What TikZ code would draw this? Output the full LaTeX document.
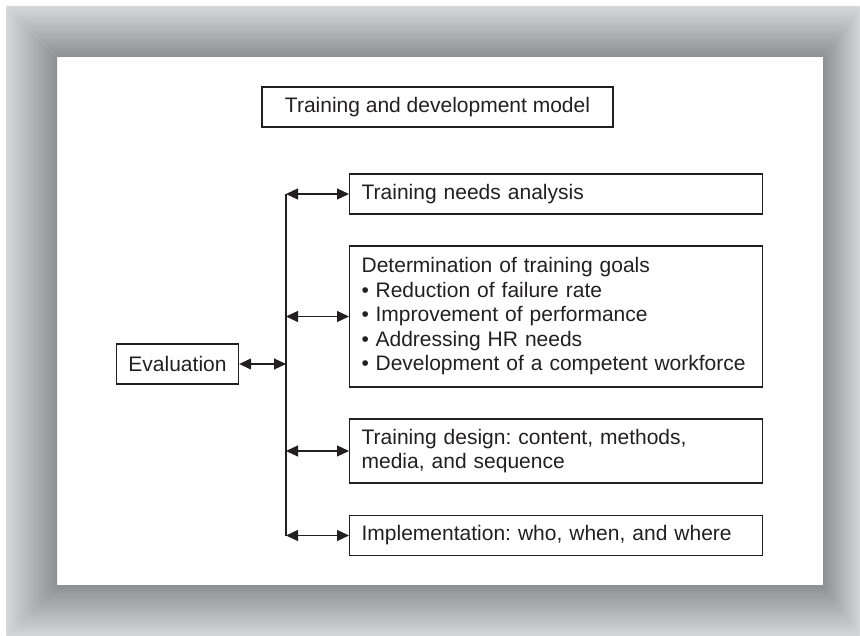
\documentclass[tikz,border=0pt]{standalone}
\usepackage{fontspec}
\setmainfont{Liberation Sans}
\usetikzlibrary{arrows.meta}

\definecolor{frameLight}{RGB}{214,215,217}
\definecolor{frameDark}{RGB}{142,143,147}
\definecolor{ink}{RGB}{35,31,32}

\frenchspacing

\begin{document}
\begin{tikzpicture}[x=1pt, y=-1pt,
  box/.style={draw=ink, line width=1.3pt, text=ink, inner xsep=12pt, inner ysep=0pt,
    align=left, font=\fontsize{21pt}{24.5pt}\selectfont},
  wide/.style={box, anchor=west, text width=389pt},
  wire/.style={draw=ink, line width=1.2pt},
  link/.style={wire, {Triangle[length=12pt,width=11pt]}-{Triangle[length=12pt,width=11pt]}}]

  % x of the vertical bus
  \def \bus{286};

  % frame
  \useasboundingbox (0,0) rectangle (860,636);
  \shade[top color=frameLight, bottom color=frameDark] (6,6) -- (860,6) -- (823,57) -- (57,57) -- cycle;
  \shade[left color=frameLight, right color=frameDark] (6,6) -- (57,57) -- (57,585) -- (6,636) -- cycle;
  \shade[left color=frameDark, right color=frameLight] (823,57) -- (860,6) -- (860,636) -- (823,585) -- cycle;
  \shade[top color=frameDark, bottom color=frameLight] (57,585) -- (823,585) -- (860,636) -- (6,636) -- cycle;

  % title
  \node[box, align=center, minimum width=351pt, minimum height=40pt] (title) at (437.5,107)
    {Training and development model};

  % steps
  \node[wide, minimum height=40pt] (needs) at (349,194) {Training needs analysis};
  \node[wide, minimum height=141pt] (goals) at (349,316.5)
    {Determination of training goals\\
     \makebox[14pt][l]{\textbullet}Reduction of failure rate\\
     \makebox[14pt][l]{\textbullet}Improvement of performance\\
     \makebox[14pt][l]{\textbullet}Addressing HR needs\\
     \makebox[14pt][l]{\textbullet}Development of a competent workforce};
  \node[wide, minimum height=64pt] (design) at (349,451)
    {Training design: content, methods,\\media, and sequence};
  \node[wide, minimum height=40pt] (impl) at (349,535.5) {Implementation: who, when, and where};

  % evaluation
  \node[box, align=center, minimum width=121pt, minimum height=40pt] (eval) at (177.5,364) {Evaluation};

  % bus
  \coordinate (busN) at (\bus,194);
  \coordinate (busS) at (\bus,535.5);
  \draw[wire] (busN) -- (busS);

  % arrows
  \draw[link] (needs.west -| busN) -- (needs.west);
  \draw[link] (goals.west -| busN) -- (goals.west);
  \draw[link] (design.west -| busN) -- (design.west);
  \draw[link] (impl.west -| busN) -- (impl.west);
  \draw[link] (eval.east) -- (eval.east -| busN);

\end{tikzpicture}
\end{document}
